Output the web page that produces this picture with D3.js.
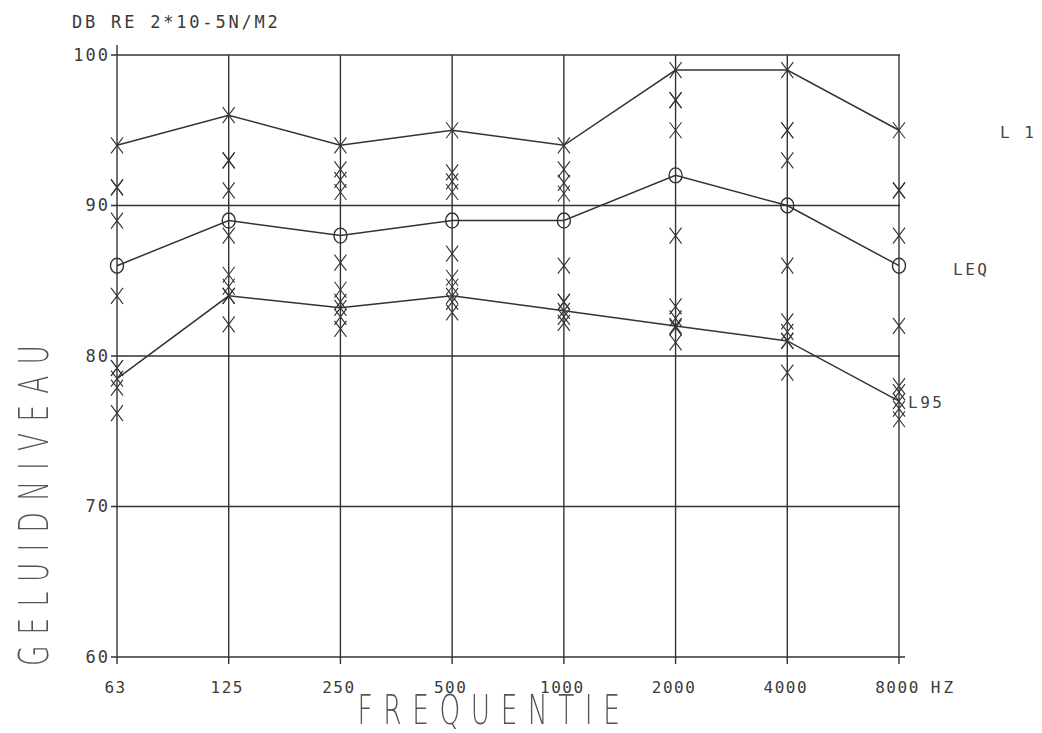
<!DOCTYPE html>
<html>
<head>
<meta charset="utf-8">
<script src="https://cdn.jsdelivr.net/npm/d3@7"></script>
<style>
  html, body { margin: 0; padding: 0; background: #fff; }
  svg { display: block; }
  .mono { font-family: "DejaVu Sans Mono", "Liberation Mono", monospace; }
  .thin { font-family: "DejaVu Sans", sans-serif; font-weight: 200; filter: grayscale(100%); }
</style>
</head>
<body>
<script>
// Octave-band centre frequencies (Hz) shown along the horizontal axis
const FREQS = ["63", "125", "250", "500", "1000", "2000", "4000", "8000"];
// Level axis ticks (dB)
const Y_TICKS = [60, 70, 80, 90, 100];

// Statistical levels per octave band, dB re 2*10-5 N/m2
const L1  = [94, 96, 94, 95, 94, 99, 99, 95];
const L2  = [91.2, 93, 92.4, 92.2, 92.4, 97, 95, 91];
const L5  = [91.2, 93, 91.7, 91.6, 91.5, 97, 95, 91];
const L10 = [89, 91, 90.9, 90.9, 90.8, 95, 93, 88];
const LEQ = [86, 89, 88, 89, 89, 92, 90, 86];
const L50 = [84, 88, 86.2, 86.8, 86, 88, 86, 82];
const L80 = [79.2, 85.4, 84.4, 85.2, 83.6, 83.3, 82.3, 78];
const L90 = [79.2, 84.6, 83.6, 84.6, 83.6, 82.5, 81.6, 77.6];
const L95 = [78.5, 84, 83.2, 84, 83, 82, 81, 77];
const L98 = [77.9, 84, 82.6, 83.6, 82.6, 81.9, 81, 76.5];
const L99 = [76.2, 82.1, 81.8, 82.9, 82.2, 80.9, 78.9, 75.8];

const W = 1042, H = 733;
const ink = "#333";

const svg = d3.select("body").append("svg")
  .attr("width", W).attr("height", H)
  .attr("viewBox", `0 0 ${W} ${H}`);

const x = d3.scalePoint().domain(FREQS).range([117, 899]);
const y = d3.scaleLinear().domain([60, 100]).range([657, 55]);

// ---- grid / frame --------------------------------------------------------
const grid = svg.append("g").attr("stroke", ink).attr("stroke-width", 1.4).attr("fill", "none");

// horizontal rules at every 10 dB, with a short tick left of the axis
grid.selectAll("line.h").data(Y_TICKS).join("line")
  .attr("x1", x(FREQS[0]) - 6)
  .attr("x2", d => d === 60 ? x(FREQS[FREQS.length - 1]) + 6 : x(FREQS[FREQS.length - 1]) + 1)
  .attr("y1", d => y(d)).attr("y2", d => y(d));

// vertical rules at every band, running past the baseline as ticks
grid.selectAll("line.v").data(FREQS).join("line")
  .attr("x1", d => x(d)).attr("x2", d => x(d))
  .attr("y1", (d, i) => i === 0 ? y(100) - 10 : y(100))
  .attr("y2", y(60) + 7);

// ---- axis labels ---------------------------------------------------------
const xAxis = d3.axisBottom(x).tickSize(0).tickPadding(0);
const gx = svg.append("g").attr("transform", `translate(-2,${y(60) + 36})`).call(xAxis);
gx.select(".domain").remove();
gx.selectAll("text")
  .attr("class", "mono")
  .attr("dy", 0)
  .attr("fill", "#3a3a3a")
  .style("font-size", "16px")
  .style("letter-spacing", "1.5px");
gx.selectAll(".tick").filter(d => d === "8000").append("text")
  .attr("class", "mono")
  .attr("x", 46).attr("fill", "#3a3a3a")
  .style("font-size", "16px").style("letter-spacing", "3px")
  .text("HZ");

const yAxis = d3.axisLeft(y).tickValues(Y_TICKS).tickSize(0).tickPadding(0).tickFormat(d3.format("d"));
const gy = svg.append("g").attr("transform", `translate(${x(FREQS[0]) - 7},0)`).call(yAxis);
gy.select(".domain").remove();
gy.selectAll("text")
  .attr("class", "mono")
  .attr("fill", "#3a3a3a")
  .style("font-size", "17px")
  .style("letter-spacing", "2px");

// unit caption above the plot
svg.append("text").attr("class", "mono")
  .attr("x", 72).attr("y", 28)
  .attr("fill", "#3a3a3a")
  .style("font-size", "17px").style("letter-spacing", "2.8px")
  .text("DB RE 2*10-5N/M2");

// axis titles in thin plotter lettering
svg.append("text").attr("class", "thin")
  .attr("transform", `translate(494,724) scale(0.66,1)`)
  .attr("text-anchor", "middle")
  .attr("fill", "#555")
  .style("font-size", "40px")
  .style("letter-spacing", "16px")
  .text("FREQUENTIE");

svg.append("text").attr("class", "thin")
  .attr("transform", `translate(48,500) rotate(-90) scale(0.66,1)`)
  .attr("text-anchor", "middle")
  .attr("fill", "#555")
  .style("font-size", "40px")
  .style("letter-spacing", "17px")
  .text("GELUIDNIVEAU");

// ---- series --------------------------------------------------------------
const line = d3.line().x(d => x(d.f)).y(d => y(d.v));
const pts = arr => FREQS.map((f, i) => ({ f, v: arr[i] })).filter(d => d.v != null);

const plot = svg.append("g").attr("stroke", ink).attr("fill", "none");

[L1, LEQ, L95].forEach(arr => {
  plot.append("path").attr("d", line(pts(arr))).attr("stroke-width", 1.5);
});

// cross markers for the percentile levels
const cross = "M-6,-8L6,8M6,-8L-6,8";
[L1, L2, L5, L10, L50, L80, L90, L95, L98, L99].forEach(arr => {
  plot.append("g").selectAll("path").data(pts(arr)).join("path")
    .attr("transform", d => `translate(${x(d.f)},${y(d.v)})`)
    .attr("d", cross).attr("stroke-width", 1.1);
});

// circles for the equivalent level
plot.append("g").selectAll("ellipse").data(pts(LEQ)).join("ellipse")
  .attr("cx", d => x(d.f)).attr("cy", d => y(d.v))
  .attr("rx", 6.5).attr("ry", 7.5).attr("stroke-width", 1.4);

// series names at the right
const names = [["L 1", 1000, 138], ["LEQ", 953, 275], ["L95", 908, 408]];
svg.append("g").selectAll("text").data(names).join("text")
  .attr("class", "mono")
  .attr("x", d => d[1]).attr("y", d => d[2])
  .attr("fill", "#444")
  .style("font-size", "16px").style("letter-spacing", "2.5px")
  .text(d => d[0]);
</script>
</body>
</html>
